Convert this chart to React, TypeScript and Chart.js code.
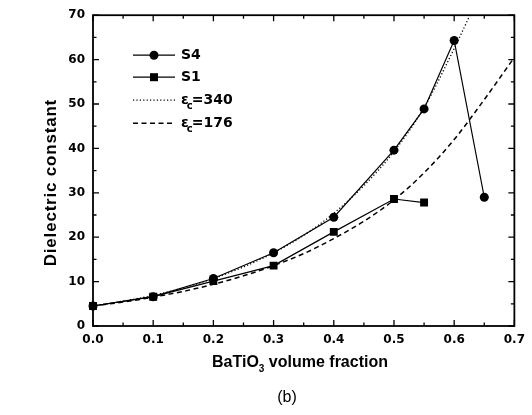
import React, { useEffect, useRef } from "react";
import { Chart, registerables } from "chart.js";

Chart.register(...registerables);

// ---- data ----
const s4X = [0, 0.1, 0.2, 0.3, 0.4, 0.5, 0.55, 0.6, 0.65];
const s4Y = [4.5, 6.6, 10.7, 16.5, 24.5, 39.6, 48.9, 64.3, 29.0];

const s1X = [0, 0.1, 0.2, 0.3, 0.4, 0.5, 0.55];
const s1Y = [4.5, 6.6, 10.1, 13.6, 21.2, 28.6, 27.8];

const fit340X = [0, 0.05, 0.1, 0.15, 0.2, 0.25, 0.3, 0.35, 0.4, 0.45, 0.5, 0.55, 0.6, 0.65];
const fit340Y = [4.5, 5.6, 6.9, 8.6, 10.7, 13.3, 16.5, 20.4, 25.4, 31.6, 39.3, 49.2, 62.5, 77.0];

const fit176X = [0, 0.05, 0.1, 0.15, 0.2, 0.25, 0.3, 0.35, 0.4, 0.45, 0.5, 0.55, 0.6, 0.65, 0.7];
const fit176Y = [4.5, 5.4, 6.5, 7.8, 9.4, 11.3, 13.6, 16.3, 19.7, 23.6, 28.4, 34.5, 42.0, 51.0, 60.5];

const xTicks = [0, 0.1, 0.2, 0.3, 0.4, 0.5, 0.6, 0.7];
const yTicks = [0, 10, 20, 30, 40, 50, 60, 70];

const legendLabels = ["S4", "S1", "=340", "=176"];
const yTitle = "Dielectric constant";
const xTitleMain = "BaTiO";
const xTitleSub = "3";
const xTitleRest = " volume fraction";
const caption = "(b)";

const toPts = (xs: number[], ys: number[]) => xs.map((x, i) => ({ x, y: ys[i] }));
const mids = (t: number[]) => t.slice(0, -1).map((v, i) => (v + t[i + 1]) / 2);

const decorPlugin = {
  id: "decor",
  afterDatasetsDraw(chart: any) {
    const { ctx, chartArea: a, scales } = chart;
    const xs = scales.x;
    const ys = scales.y;
    ctx.save();
    ctx.strokeStyle = "#000";
    // frame
    ctx.lineWidth = 1.8;
    ctx.strokeRect(a.left, a.top, a.right - a.left, a.bottom - a.top);
    // inward ticks
    ctx.lineWidth = 1.3;
    ctx.beginPath();
    const xt: [number, number][] = [
      ...xTicks.map((v) => [v, 6] as [number, number]),
      ...mids(xTicks).map((v) => [v, 3.5] as [number, number]),
    ];
    xt.forEach(([v, len]) => {
      const px = xs.getPixelForValue(v);
      ctx.moveTo(px, a.bottom);
      ctx.lineTo(px, a.bottom - len);
      ctx.moveTo(px, a.top);
      ctx.lineTo(px, a.top + len);
    });
    const yt: [number, number][] = [
      ...yTicks.map((v) => [v, 6] as [number, number]),
      ...mids(yTicks).map((v) => [v, 3.5] as [number, number]),
    ];
    yt.forEach(([v, len]) => {
      const py = ys.getPixelForValue(v);
      ctx.moveTo(a.left, py);
      ctx.lineTo(a.left + len, py);
      ctx.moveTo(a.right, py);
      ctx.lineTo(a.right - len, py);
    });
    ctx.stroke();

    // legend
    const lx0 = a.left + 40;
    const lx1 = a.left + 82;
    const tx = a.left + 88;
    const rows = [a.top + 40, a.top + 62, a.top + 85, a.top + 108];
    ctx.fillStyle = "#000";
    ctx.lineWidth = 1.3;
    // S4
    ctx.beginPath();
    ctx.moveTo(lx0, rows[0]);
    ctx.lineTo(lx1, rows[0]);
    ctx.stroke();
    ctx.beginPath();
    ctx.arc((lx0 + lx1) / 2, rows[0], 4.5, 0, Math.PI * 2);
    ctx.fill();
    // S1
    ctx.beginPath();
    ctx.moveTo(lx0, rows[1]);
    ctx.lineTo(lx1, rows[1]);
    ctx.stroke();
    ctx.fillRect((lx0 + lx1) / 2 - 4, rows[1] - 4, 8, 8);
    // dotted
    ctx.setLineDash([1.2, 2.2]);
    ctx.beginPath();
    ctx.moveTo(lx0, rows[2]);
    ctx.lineTo(lx1, rows[2]);
    ctx.stroke();
    // dashed
    ctx.setLineDash([5, 3.5]);
    ctx.lineWidth = 1.5;
    ctx.beginPath();
    ctx.moveTo(lx0, rows[3]);
    ctx.lineTo(lx1, rows[3]);
    ctx.stroke();
    ctx.setLineDash([]);

    ctx.textBaseline = "middle";
    ctx.textAlign = "left";
    ctx.font = "bold 14px 'DejaVu Sans'";
    ctx.fillText(legendLabels[0], tx, rows[0]);
    ctx.fillText(legendLabels[1], tx, rows[1]);
    [2, 3].forEach((r) => {
      ctx.font = "bold 14px 'DejaVu Sans'";
      const ew = ctx.measureText("ε").width;
      ctx.fillText("ε", tx, rows[r]);
      ctx.font = "bold 10px 'DejaVu Sans'";
      ctx.fillText("c", tx + ew - 2, rows[r] + 6);
      ctx.font = "bold 14px 'DejaVu Sans'";
      ctx.fillText(legendLabels[r], tx + ew + 3, rows[r]);
    });

    // y title
    ctx.save();
    ctx.translate(51, (a.top + a.bottom) / 2 + 12);
    ctx.rotate(-Math.PI / 2);
    ctx.font = "bold 17px 'Liberation Sans'";
    try { (ctx as any).letterSpacing = "0.8px"; } catch (e) {}
    ctx.textAlign = "center";
    ctx.textBaseline = "middle";
    ctx.fillText(yTitle, 0, 0);
    try { (ctx as any).letterSpacing = "0px"; } catch (e) {}
    ctx.restore();

    // x title
    ctx.font = "bold 16px 'Liberation Sans'";
    const w1 = ctx.measureText(xTitleMain).width;
    const w3 = ctx.measureText(xTitleRest).width;
    ctx.font = "bold 10px 'Liberation Sans'";
    const w2 = ctx.measureText(xTitleSub).width;
    const total = w1 + w2 + w3;
    const cx = 300;
    let x0 = cx - total / 2;
    const ty = 363;
    ctx.textAlign = "left";
    ctx.font = "bold 16px 'Liberation Sans'";
    ctx.fillText(xTitleMain, x0, ty);
    ctx.font = "bold 10px 'Liberation Sans'";
    ctx.fillText(xTitleSub, x0 + w1, ty + 6);
    ctx.font = "bold 16px 'Liberation Sans'";
    ctx.fillText(xTitleRest, x0 + w1 + w2, ty);

    // caption
    ctx.font = "16px 'Liberation Sans'";
    ctx.textAlign = "center";
    ctx.fillText(caption, 287, 398);
    ctx.restore();
  },
};

export default function App() {
  const ref = useRef<HTMLCanvasElement | null>(null);
  useEffect(() => {
    if (!ref.current) return;
    const tickFont = { family: "'DejaVu Sans'", weight: "bold" as const, size: 12 };
    const chart = new Chart(ref.current, {
      type: "line",
      data: {
        datasets: [
          {
            label: "εc=340",
            data: toPts(fit340X, fit340Y),
            borderColor: "#000",
            borderWidth: 1.3,
            borderDash: [1.2, 2.2],
            pointRadius: 0,
            cubicInterpolationMode: "monotone",
            fill: false,
            clip: { left: 5, right: 5, top: 0, bottom: 5 } as any,
          },
          {
            label: "εc=176",
            data: toPts(fit176X, fit176Y),
            borderColor: "#000",
            borderWidth: 1.5,
            borderDash: [5, 3.5],
            pointRadius: 0,
            cubicInterpolationMode: "monotone",
            fill: false,
            clip: { left: 5, right: 0, top: 0, bottom: 5 } as any,
          },
          {
            label: "S1",
            data: toPts(s1X, s1Y),
            borderColor: "#000",
            backgroundColor: "#000",
            borderWidth: 1.2,
            pointStyle: "rect",
            pointRadius: 5.6,
            pointBorderWidth: 0,
            tension: 0,
            fill: false,
            clip: 6 as any,
          },
          {
            label: "S4",
            data: toPts(s4X, s4Y),
            borderColor: "#000",
            backgroundColor: "#000",
            borderWidth: 1.2,
            pointStyle: "circle",
            pointRadius: 4.5,
            pointBorderWidth: 0,
            tension: 0,
            fill: false,
            clip: 6 as any,
          },
        ],
      },
      options: {
        responsive: false,
        animation: false,
        layout: { padding: { left: 0, right: 17, top: 15, bottom: 0 } },
        plugins: { legend: { display: false }, tooltip: { enabled: false } },
        scales: {
          x: {
            type: "linear",
            min: 0,
            max: 0.7,
            afterBuildTicks: (s: any) => {
              s.ticks = xTicks.map((v) => ({ value: v }));
            },
            afterFit: (s: any) => {
              s.height = 89;
            },
            ticks: {
              callback: (v: any) => Number(v).toFixed(1),
              font: tickFont,
              color: "#000",
              padding: 7,
              maxRotation: 0,
              autoSkip: false,
            },
            grid: { display: false, drawTicks: false },
            border: { display: false },
          },
          y: {
            type: "linear",
            min: 0,
            max: 70,
            afterBuildTicks: (s: any) => {
              s.ticks = yTicks.map((v) => ({ value: v }));
            },
            afterFit: (s: any) => {
              s.width = 93;
            },
            ticks: {
              font: tickFont,
              color: "#000",
              padding: 8,
              autoSkip: false,
            },
            grid: { display: false, drawTicks: false },
            border: { display: false },
          },
        },
      },
      plugins: [decorPlugin],
    });
    return () => chart.destroy();
  }, []);
  return (
    <div style={{ position: "absolute", left: 0, top: 0, width: 532, height: 415, background: "#fff" }}>
      <canvas ref={ref} width={532} height={415} style={{ display: "block" }} />
    </div>
  );
}
